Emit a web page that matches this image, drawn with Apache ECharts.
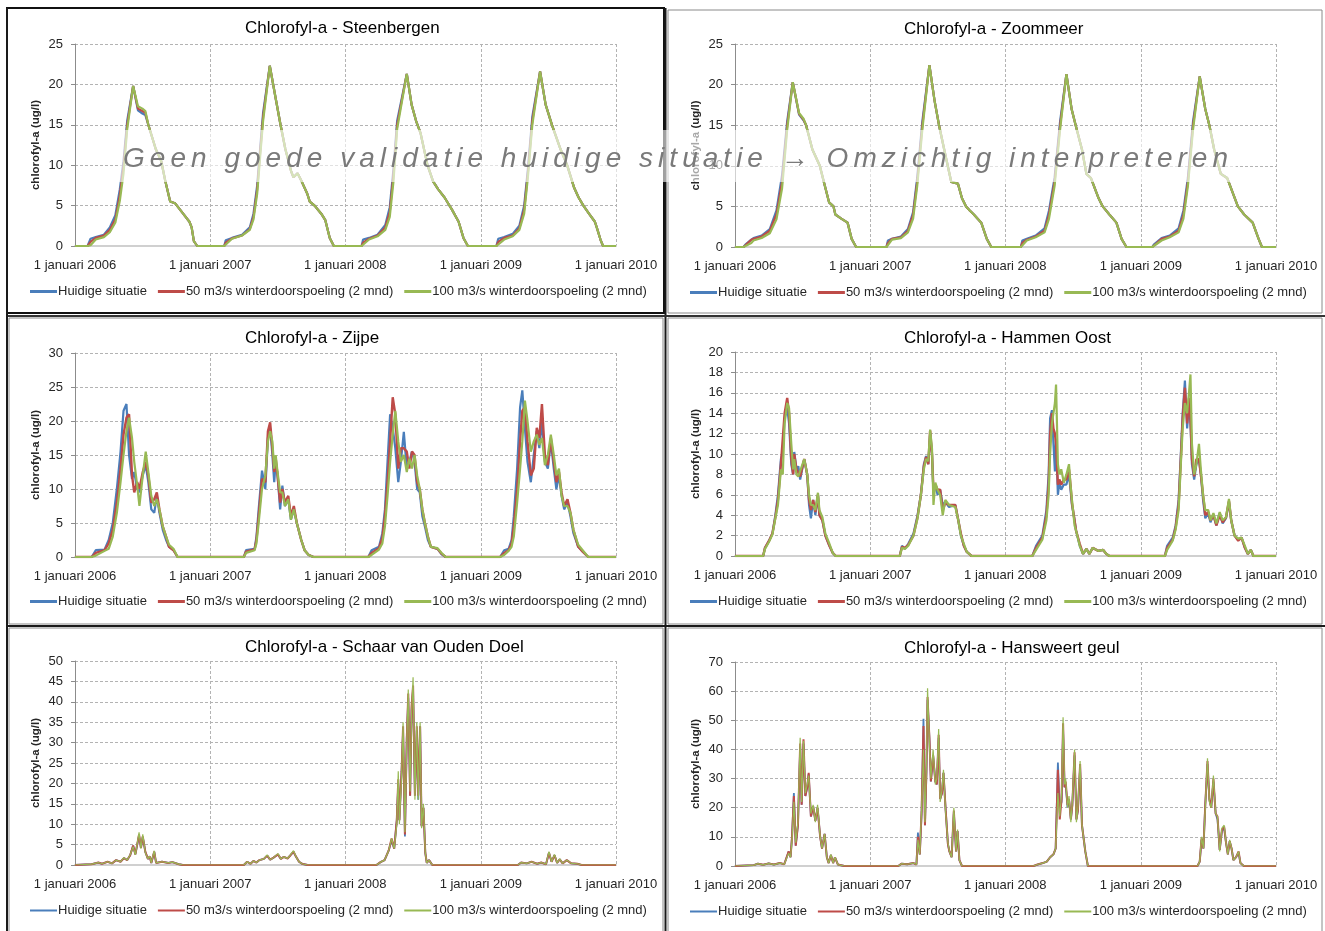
<!DOCTYPE html>
<html>
<head>
<meta charset="utf-8">
<script src="https://cdn.jsdelivr.net/npm/echarts@6/dist/echarts.min.js"></script>
<style>
html,body{margin:0;padding:0;background:#fff;}
#chart{position:absolute;left:0;top:0;width:1325px;height:931px;}
#wm{position:absolute;left:118px;top:130px;width:1118px;height:52px;background:rgba(255,255,255,0.6);z-index:10;}
#wmText{position:absolute;left:5px;top:12px;font-style:italic;font-size:28px;line-height:32px;font-family:'Liberation Sans',Arial,sans-serif;color:#7a7a7a;white-space:nowrap;}
</style>
</head>
<body>
<div id="chart"></div>
<div id="wm"><span id="wmText">Geen goede validatie huidige situatie → Omzichtig interpreteren</span></div>
<script>
// ---------- labels ----------
const seriesNames = ['Huidige situatie', '50 m3/s winterdoorspoeling (2 mnd)', '100 m3/s winterdoorspoeling (2 mnd)'];
const panelTitles = ['Chlorofyl-a - Steenbergen', 'Chlorofyl-a - Zoommeer', 'Chlorofyl-a - Zijpe', 'Chlorofyl-a - Hammen Oost', 'Chlorofyl-a - Schaar van Ouden Doel', 'Chlorofyl-a - Hansweert geul'];
const xTickLabels = ['1 januari 2006', '1 januari 2007', '1 januari 2008', '1 januari 2009', '1 januari 2010'];
const yAxisName = 'chlorofyl-a (ug/l)';
const yMaxes = [25, 25, 30, 20, 50, 70];
const yIntervals = [5, 5, 5, 2, 5, 10];

// ---------- Steenbergen ----------
const steenbergenDates = ['2006-01-01','2006-02-04','2006-02-12','2006-02-26','2006-03-20','2006-04-05','2006-04-20','2006-05-02','2006-05-12','2006-05-22','2006-06-07','2006-06-20','2006-07-02','2006-07-10','2006-07-18','2006-08-07','2006-08-22','2006-09-02','2006-09-15','2006-09-28','2006-10-20','2006-11-06','2006-11-12','2006-11-18','2006-11-27',
'2007-02-08','2007-02-12','2007-03-01','2007-03-28','2007-04-18','2007-04-28','2007-05-08','2007-05-15','2007-05-24','2007-06-11','2007-06-28','2007-07-10','2007-07-23','2007-08-08','2007-08-14','2007-08-25','2007-09-05','2007-09-20','2007-09-27','2007-10-10','2007-10-28','2007-11-08','2007-11-20','2007-12-01',
'2008-02-14','2008-02-18','2008-03-05','2008-03-28','2008-04-18','2008-04-30','2008-05-10','2008-05-20','2008-06-15','2008-06-28','2008-07-10','2008-07-22','2008-08-10','2008-08-25','2008-09-08','2008-09-25','2008-10-15','2008-11-02','2008-11-15','2008-11-27',
'2009-02-12','2009-02-17','2009-03-05','2009-03-28','2009-04-15','2009-04-28','2009-05-08','2009-05-20','2009-06-10','2009-06-25','2009-07-12','2009-08-04','2009-08-22','2009-09-10','2009-09-22','2009-10-05','2009-10-20','2009-11-05','2009-11-10','2009-11-20','2009-11-27','2010-01-01'];
const steenbergenHuidig = [0,0,0.9,1.1,1.4,2.3,3.8,7.0,10.5,15.5,19.8,16.8,16.4,16.2,15.0,12.0,10.5,8.0,5.5,5.3,4.0,3.0,2.3,0.6,0,
0,0.7,1.0,1.4,2.3,4.0,7.5,11.5,16.5,22.3,18,15,12,9.2,8.5,9.0,8.0,6.5,5.5,5.0,4.0,3.2,1.0,0,
0,0.8,1.0,1.4,2.6,4.8,9.5,15.5,21.3,17.5,15.5,14.0,10.0,8.0,7.0,6.0,4.5,3.0,1.0,0,
0,0.9,1.1,1.5,2.5,5.0,9.5,16,21.6,17.5,15,12,10,7.2,6.0,5.0,4.0,3.0,2.3,0.8,0,0];
const steenbergen50 = [0,0,0.5,1.0,1.3,2.0,3.3,6.3,9.8,15.0,19.8,17.0,16.7,16.5,15.0,12.0,10.5,8.0,5.5,5.3,4.0,3.0,2.3,0.6,0,
0,0.4,0.95,1.3,2.1,3.6,7.0,11,16,22.3,18,15,12,9.2,8.5,9.0,8.0,6.5,5.5,5.0,4.0,3.2,1.0,0,
0,0.4,0.9,1.3,2.3,4.2,8.8,15,21.3,17.5,15.5,14.0,10.0,8.0,7.0,6.0,4.5,3.0,1.0,0,
0,0.5,1.0,1.3,2.2,4.5,9.0,15.5,21.6,17.5,15,12,10,7.2,6.0,5.0,4.0,3.0,2.3,0.8,0,0];
const steenbergen100 = [0,0,0.1,0.8,1.1,1.7,2.9,5.6,9.0,14.5,19.8,17.3,17.0,16.7,15.0,12.0,10.5,8.0,5.5,5.3,4.0,3.0,2.3,0.6,0,
0,0.1,0.9,1.3,2.0,3.3,6.5,10.5,15.5,22.3,18,15,12,9.2,8.5,9.0,8.0,6.5,5.5,5.0,4.0,3.2,1.0,0,
0,0.1,0.8,1.2,2.0,3.6,8.0,14.5,21.3,17.5,15.5,14.0,10.0,8.0,7.0,6.0,4.5,3.0,1.0,0,
0,0.1,0.8,1.2,2.0,4.0,8.5,15,21.6,17.5,15,12,10,7.2,6.0,5.0,4.0,3.0,2.3,0.8,0,0];

// ---------- Zoommeer ----------
const zoommeerDates = ['2006-01-01','2006-01-24','2006-01-29','2006-02-14','2006-02-20','2006-03-14','2006-04-05','2006-04-23','2006-05-08','2006-05-22','2006-06-06','2006-06-23','2006-07-05','2006-07-12','2006-07-29','2006-08-18','2006-08-29','2006-09-12','2006-09-24','2006-09-29','2006-10-15','2006-11-01','2006-11-12','2006-11-24',
'2007-02-14','2007-02-18','2007-03-01','2007-03-25','2007-04-13','2007-04-27','2007-05-08','2007-05-22','2007-06-10','2007-06-24','2007-07-06','2007-07-20','2007-08-08','2007-08-26','2007-09-06','2007-09-17','2007-09-27','2007-10-08','2007-10-28','2007-11-12','2007-11-24',
'2008-02-12','2008-02-16','2008-02-28','2008-03-23','2008-04-16','2008-04-28','2008-05-13','2008-05-28','2008-06-14','2008-06-28','2008-07-09','2008-07-26','2008-08-07','2008-08-19','2008-09-09','2008-09-20','2008-10-08','2008-10-27','2008-11-10','2008-11-23',
'2009-02-01','2009-02-05','2009-02-26','2009-03-20','2009-04-13','2009-04-26','2009-05-08','2009-05-22','2009-06-09','2009-06-24','2009-07-05','2009-07-18','2009-08-05','2009-08-22','2009-09-20','2009-10-07','2009-10-30','2009-11-15','2009-11-24','2010-01-01'];
const zoommeerHuidig = [0,0,0.3,0.9,1.1,1.4,2.2,4.5,8.8,15.5,20.3,16.3,15.6,15,12,10,8,5.5,5,4,3.5,3,1,0,
0,0.8,1.0,1.3,2.2,4.3,8.5,15.5,22.4,18,15,12,8,7.8,6,5,4.5,4,3,1,0,
0,0.8,1.0,1.4,2.3,4.5,8.5,15.5,21.3,17,15,12,9,8.5,6,5,4,3,1,0,
0,0.3,1.1,1.4,2.3,4.5,8.5,15.5,21,17,15,12,9,8.5,5,4,3,1,0,0];
const zoommeer50 = [0,0,0.1,0.9,1.0,1.3,2.0,4.0,8.0,15,20.3,16.4,15.7,15,12,10,8,5.5,5,4,3.5,3,1,0,
0,0.5,1.0,1.2,2.0,4.0,8,15,22.4,18,15,12,8,7.8,6,5,4.5,4,3,1,0,
0,0.5,0.9,1.3,2.0,4.0,8,15,21.3,17,15,12,9,8.5,6,5,4,3,1,0,
0,0.1,1.0,1.3,2.0,4.0,8,15,21,17,15,12,9,8.5,5,4,3,1,0,0];
const zoommeer100 = [0,0,0,0.5,0.8,1.1,1.7,3.4,7.2,14.5,20.3,16.5,15.8,15,12,10,8,5.5,5,4,3.5,3,1,0,
0,0.1,0.9,1.1,1.8,3.5,7.5,14.5,22.4,18,15,12,8,7.8,6,5,4.5,4,3,1,0,
0,0.1,0.8,1.2,1.8,3.5,7.5,14.5,21.3,17,15,12,9,8.5,6,5,4,3,1,0,
0,0,0.8,1.2,1.8,3.5,7.5,14.5,21,17,15,12,9,8.5,5,4,3,1,0,0];

// ---------- Zijpe ----------
const zijpeDates = ['2006-01-01','2006-02-15','2006-02-26','2006-03-22','2006-04-02','2006-04-13','2006-04-24','2006-05-04','2006-05-12','2006-05-20','2006-05-27','2006-06-04','2006-06-10','2006-06-18','2006-06-24','2006-07-03','2006-07-11','2006-07-18','2006-07-26','2006-08-03','2006-08-10','2006-08-17','2006-08-26','2006-09-04','2006-09-12','2006-09-24','2006-10-05',
'2007-04-02','2007-04-08','2007-05-01','2007-05-06','2007-05-12','2007-05-21','2007-05-30','2007-06-06','2007-06-12','2007-06-18','2007-06-23','2007-06-27','2007-07-02','2007-07-09','2007-07-15','2007-07-22','2007-07-31','2007-08-07','2007-08-15','2007-08-23','2007-09-04','2007-09-13','2007-09-24','2007-10-07',
'2008-03-03','2008-03-12','2008-04-01','2008-04-10','2008-04-17','2008-04-24','2008-05-01','2008-05-08','2008-05-15','2008-05-23','2008-05-30','2008-06-07','2008-06-15','2008-06-22','2008-06-29','2008-07-06','2008-07-13','2008-07-20','2008-07-27','2008-08-03','2008-08-11','2008-08-19','2008-09-06','2008-09-17','2008-09-28',
'2009-02-22','2009-03-05','2009-03-17','2009-03-25','2009-03-31','2009-04-09','2009-04-17','2009-04-23','2009-04-30','2009-05-07','2009-05-16','2009-05-24','2009-06-01','2009-06-08','2009-06-15','2009-06-23','2009-07-01','2009-07-09','2009-07-17','2009-07-24','2009-07-31','2009-08-07','2009-08-14','2009-08-23','2009-08-31','2009-09-08','2009-09-21','2009-10-03','2009-10-18','2010-01-01'];
const zijpeHuidig = [0,0,1,1.1,2.5,5,10,15.5,21.5,22.5,15,11.5,12.5,10,9.5,12,13.5,11,7,6.5,9,6.5,4,2.5,1.5,1,0,
0,1,1.2,3,7,12.7,10,17.5,19,15,11,14,12,7,10.5,7.5,8.5,5.5,7,5,2.5,1,0.3,0,
0,1,1.5,3.5,7,14,21,19,16,11,14,18.4,13,14,15.5,14,10,9.5,6,4.5,2.5,1.5,1.2,0.4,0,
0,1,1.2,2.5,6,13,22,24.5,19,14,11,15,18.5,16,20,14,13,17,13,10,12,9,7,8,6,3.5,1.5,0.8,0,0];
const zijpe50 = [0,0,0.6,1.0,2,4,8,13,18,20.5,21,12,9.5,11,10,12.5,14,12,8,8.5,9.5,7,4.5,3,1.5,1,0,
0,0.8,1.1,2.5,6,11.5,11,18.5,19.8,16,12.5,14.5,12,8,10,8,9,6,7.5,5,2.5,1,0.3,0,
0,0.6,1.3,2.8,6,11,17,23.5,21,13,16,16,15.5,13,15.5,15,11,10,7,5,3,1.5,1.2,0.5,0,
0,0.6,1.0,2,4.5,10,17,21.5,22,17,12,13,19,17.5,22.5,15,13.5,17.5,14,11,12.5,9.5,7.5,8.5,6.5,4,1.5,0.8,0,0];
const zijpe100 = [0,0,0.2,0.9,1.2,3,6.5,11,15,18.5,20.5,17.5,14,10.5,7.5,12,15.5,12.5,9,7.5,8.5,7,4.5,3,1.8,1.2,0,
0,0.6,1.0,2,5,10,12,17,18.5,17,13,15,12.5,9.5,9.5,7.5,8.5,5.5,7,5,2.5,1,0.3,0,
0,0.3,1.1,2,4.5,9,14,18,21.5,17,14,15,12.5,14.5,13,15,12,10,7,5,3,1.5,1.3,0.6,0,
0,0.3,0.9,1.5,3,8,13,17,23,20,15.5,17,18,16.5,17.5,13.5,15,18,15,12,13,9,7.5,7.5,6.5,4,1.8,1,0,0];

// ---------- Hammen Oost ----------
const hammenDates = ['2006-01-01','2006-03-18','2006-03-23','2006-04-03','2006-04-12','2006-04-20','2006-04-27','2006-05-05','2006-05-10','2006-05-15','2006-05-22','2006-05-27','2006-06-02','2006-06-07','2006-06-10','2006-06-16','2006-06-21','2006-06-26','2006-07-07','2006-07-15','2006-07-20','2006-07-25','2006-07-31','2006-08-06','2006-08-13','2006-08-17','2006-08-25','2006-09-02','2006-09-13','2006-09-22','2006-09-30',
'2007-03-22','2007-03-28','2007-04-05','2007-04-14','2007-04-28','2007-05-09','2007-05-18','2007-05-26','2007-06-01','2007-06-07','2007-06-12','2007-06-17','2007-06-21','2007-06-26','2007-07-02','2007-07-09','2007-07-16','2007-07-23','2007-08-02','2007-08-19','2007-08-27','2007-09-03','2007-09-11','2007-09-19','2007-10-02',
'2008-03-14','2008-03-24','2008-04-10','2008-04-21','2008-04-27','2008-05-01','2008-05-06','2008-05-10','2008-05-14','2008-05-17','2008-05-22','2008-05-26','2008-05-31','2008-06-07','2008-06-14','2008-06-21','2008-06-25','2008-06-29','2008-07-06','2008-07-10','2008-07-20','2008-07-29','2008-08-07','2008-08-15','2008-08-24','2008-09-08','2008-09-21','2008-09-30','2008-10-08',
'2009-03-07','2009-03-13','2009-03-28','2009-04-05','2009-04-13','2009-04-19','2009-04-24','2009-04-30','2009-05-06','2009-05-11','2009-05-15','2009-05-19','2009-05-25','2009-05-31','2009-06-07','2009-06-12','2009-06-18','2009-06-24','2009-07-02','2009-07-08','2009-07-16','2009-07-24','2009-08-02','2009-08-10','2009-08-19','2009-08-27','2009-09-02','2009-09-11','2009-09-21','2009-09-30','2009-10-09','2009-10-17','2009-10-25','2009-11-01','2010-01-01'];
const hammenHuidig = [0,0,0.8,1.5,2.2,4,6,9.5,10.2,13.5,14.5,13,9,8,10.2,8.5,8.8,7.5,9.5,8,5,3.7,5.5,4,6,4,3.5,2,1,0.3,0,
0,1,0.7,1.2,2.2,4,6,9,9.8,9,12,10,6,7,6,6.5,5,5.3,4.8,5,3.5,2,1,0.4,0,
0,1,2,4.5,8,13.5,14.3,11,8.3,11.5,6,7.2,6.5,7,7,8,6.5,5,3.5,2.5,1,0.2,0.7,0.2,0.8,0.5,0.6,0.2,0,
0,1,1.8,3,5.5,10,14,17.2,12.5,15,13,9,7.5,9,9.5,8,5.5,3.7,4.2,3.3,4,3,4.2,3.2,3.7,5.3,3.5,2,1.6,1.8,0.8,0.2,0.6,0,0];
const hammen50 = [0,0,0.8,1.5,2.2,3.8,5.5,9,9,14,15.5,14,9.5,8,10,8.5,8.5,7.8,9.5,8,5.5,4.5,5.5,4.3,6,4,3.5,2,1,0.3,0,
0,0.9,0.8,1.1,2,3.8,6,8.8,9.7,9,12.3,10,6.5,7,6.5,6.5,4.5,5.2,5,5,3.5,2.2,1,0.4,0,
0,0.8,1.8,4,7,12,14,12.5,12,11,7,7.5,7,7.5,7.5,8.5,7,5.2,3.5,2.5,1.2,0.2,0.7,0.2,0.8,0.5,0.6,0.2,0,
0,0.8,1.6,2.8,5,9.5,13.5,16.5,13,15.5,13.5,9.5,7.8,9.5,9.5,8,6,4,4.3,3.5,4,3,4,3.3,3.8,5.4,3.5,2,1.5,1.8,0.8,0.2,0.6,0,0];
const hammen100 = [0,0,0.7,1.4,2.1,3.7,5,8.5,8,13,15,14.5,11,8.5,9.5,8,7.8,7.8,9.5,8,6,5,5,4.5,6.2,4.5,3.8,2.2,1.2,0.3,0,
0,0.8,0.7,1.0,2,3.7,6,8.5,9.5,9.3,12.4,10.5,5,7.2,6.5,6,4,5.5,5,4.8,3.5,2,1.2,0.4,0,
0,0.6,1.6,3.5,6,10,13,14,15,16.8,9,8,8.5,7.2,8,9,7,5.5,3,2.5,1,0.2,0.7,0.2,0.8,0.5,0.6,0.2,0,
0,0.6,1.5,2.6,4.5,9,12.5,15,14,16,17.8,11,8,9,11,8.5,6,4.5,4.5,3.5,4.2,3.2,4.3,3.5,3.8,5.6,3.5,2,1.7,1.8,1,0.2,0.6,0,0];

// ---------- Schaar van Ouden Doel ----------
const schaarDates = ['2006-01-01','2006-02-15','2006-03-05','2006-03-15','2006-03-30','2006-04-11','2006-04-22','2006-05-04','2006-05-13','2006-05-22','2006-05-30','2006-06-07','2006-06-13','2006-06-23','2006-06-28','2006-07-03','2006-07-10','2006-07-17','2006-07-22','2006-07-26','2006-08-03','2006-08-08','2006-08-24','2006-09-10','2006-09-21','2006-10-08','2006-10-19',
'2007-04-02','2007-04-11','2007-04-20','2007-04-28','2007-05-06','2007-05-14','2007-05-26','2007-06-04','2007-06-12','2007-06-21','2007-07-03','2007-07-11','2007-07-19','2007-07-29','2007-08-06','2007-08-14','2007-08-21','2007-08-29','2007-09-06','2007-09-21',
'2008-03-25','2008-04-05','2008-04-16','2008-04-27','2008-05-05','2008-05-12','2008-05-19','2008-05-23','2008-05-26','2008-06-01','2008-06-05','2008-06-10','2008-06-15','2008-06-19','2008-06-24','2008-06-28','2008-07-02','2008-07-07','2008-07-12','2008-07-16','2008-07-21','2008-07-25','2008-07-30','2008-08-04','2008-08-08','2008-08-14','2008-08-23',
'2009-04-11','2009-04-20','2009-05-05','2009-05-18','2009-06-02','2009-06-13','2009-06-26','2009-07-04','2009-07-11','2009-07-19','2009-07-26','2009-08-02','2009-08-10','2009-08-21','2009-09-02','2009-09-19','2009-09-30','2010-01-01'];
const schaarHuidig = [0,0.2,0.6,0.3,0.8,0.4,1.2,0.8,1.7,1.2,2.4,4.7,2.6,7.2,4.2,6.8,3.2,1.5,2.1,0.5,3.2,0.5,0.8,0.5,0.7,0.2,0,
0,0.8,0.3,1.0,0.6,1.2,1.5,2.3,1.3,1.8,2.6,1.5,2,1.6,2.4,3.2,2,0.8,0.3,0,
0,0.7,1.2,3.5,6,4,11,20,11,23,33,7,31,41,17,38,43,17,33,16,34,9.5,14,3,0.5,1.2,0,
0,0.6,0.4,0.8,0.3,0.6,0.2,3.0,0.8,2.4,0.5,1.4,0.4,1.2,0.4,0.3,0,0];
const schaar50 = [0,0.2,0.6,0.3,0.8,0.4,1.2,0.8,1.7,1.2,2.4,4.8,2.6,7.5,4.2,7,3.2,1.5,2.1,0.5,3.3,0.5,0.8,0.5,0.7,0.2,0,
0,0.8,0.3,1.0,0.6,1.2,1.5,2.3,1.3,1.8,2.6,1.5,2,1.6,2.4,3.3,2,0.8,0.3,0,
0,0.7,1.2,3.5,6.5,4,11,21,11,23,34,7.5,31,42,17,39,44,17,34,17,34,9.5,14,3,0.5,1.2,0,
0,0.6,0.4,0.8,0.3,0.6,0.2,3.0,0.8,2.4,0.5,1.4,0.4,1.2,0.4,0.3,0,0];
const schaar100 = [0,0.2,0.6,0.3,0.8,0.4,1.2,0.8,1.8,1.2,2.5,4.5,2.5,8,4,7.5,3,1.5,2.2,0.5,3.5,0.5,0.8,0.5,0.7,0.2,0,
0,0.8,0.3,1.0,0.6,1.2,1.5,2.5,1.3,1.8,2.8,1.5,2,1.6,2.5,3.5,2,0.8,0.3,0,
0,0.7,1.2,3.5,6.5,4,10,23,10,22,35,8,30,43,18,37,46,16,35,16,35,9,15,3,0.5,1.2,0,
0,0.6,0.4,0.8,0.3,0.6,0.2,3.3,0.8,2.6,0.5,1.5,0.4,1.2,0.4,0.3,0,0];

// ---------- Hansweert geul ----------
const hansweertDates = ['2006-01-01','2006-02-21','2006-03-04','2006-03-18','2006-04-02','2006-04-16','2006-05-02','2006-05-14','2006-05-26','2006-05-31','2006-06-04','2006-06-09','2006-06-14','2006-06-20','2006-06-26','2006-06-30','2006-07-05','2006-07-10','2006-07-15','2006-07-19','2006-07-25','2006-07-31','2006-08-06','2006-08-12','2006-08-19','2006-08-24','2006-08-31','2006-09-06','2006-09-11','2006-09-17','2006-09-23','2006-09-28','2006-10-06','2006-10-23',
'2007-03-18','2007-03-27','2007-04-11','2007-04-28','2007-05-06','2007-05-10','2007-05-15','2007-05-20','2007-05-25','2007-05-29','2007-06-02','2007-06-05','2007-06-10','2007-06-14','2007-06-20','2007-06-26','2007-06-30','2007-07-05','2007-07-09','2007-07-14','2007-07-18','2007-07-24','2007-07-30','2007-08-03','2007-08-09','2007-08-15','2007-08-21','2007-08-25','2007-08-30','2007-09-06',
'2008-03-17','2008-03-28','2008-04-11','2008-04-22','2008-05-01','2008-05-10','2008-05-16','2008-05-22','2008-05-27','2008-06-01','2008-06-05','2008-06-09','2008-06-12','2008-06-17','2008-06-21','2008-06-26','2008-06-30','2008-07-06','2008-07-11','2008-07-15','2008-07-21','2008-07-26','2008-07-31','2008-08-04','2008-08-11',
'2009-06-03','2009-06-09','2009-06-14','2009-06-19','2009-06-24','2009-06-30','2009-07-05','2009-07-10','2009-07-16','2009-07-22','2009-07-27','2009-08-02','2009-08-08','2009-08-14','2009-08-19','2009-08-24','2009-08-29','2009-09-03','2009-09-08','2009-09-15','2009-09-22','2009-09-27','2009-10-06','2010-01-01'];
const hansweertHuidig = [0,0.3,0.8,0.4,0.9,0.5,1,0.6,5,3,10,25,7,14,41,21,42,24,27,31.5,17,20.5,15.5,20,10,6,11,3,1,3.8,1,3,0.5,0,
0,0.8,0.6,1,0.5,11.5,4,18,50.5,14,32,57,44,29,38,29,28,44,23,25,32,19,7.5,5,3,18.5,5,12,2,0,
0,0.5,1,1.5,3,4,6,35.5,20,22,47,27,28,20,23,16,21,38,16,19,34,14,14,5,0,
0,1.5,9,6,21,35,23,20,29,18,16,5.5,12,13,8,4,8.5,6,2,3,4.5,1,0,0];
const hansweert50 = [0,0.3,0.8,0.4,0.9,0.5,1,0.6,5,3,10,24,7,14,42,21,43.5,24,27,32,17,20.5,15.5,20,10,6,11,3,1,3.8,1,3,0.5,0,
0,0.8,0.6,1,0.5,10,4,19,48,14,33,58,44,29,38,29,28,45,23,25,32,19,7.5,5,3,19,5,12,2,0,
0,0.5,1,1.5,3,4,6,33,16,23,49,27,29,21,23,16,21,39,16,19,35,14,14,5,0,
0,1.5,9.5,6,21,36,23,20,30,18,17,5.5,12.5,13.5,8,4,8.5,6,2,3,5,1,0,0];
const hansweert100 = [0,0.3,0.8,0.4,0.9,0.5,1,0.6,4.5,3,9,22,8,15,44,22,43,25,28,31,18,21,15,21,10,6,11,3,1,4,1,3,0.5,0,
0,0.8,0.6,1,0.5,9,4,20,40,15,35,61,42,30,40,28,30,47,22,26,33,18,8,5,3,20,5,12.5,2,0,
0,0.5,1,1.5,3,4,6,25,17,25,51,28,30,20,24,15,22,40,15,20,36,14,14.5,5,0,
0,1.5,10,6,20,37,22,20,31,18,17,5,13,14,8,4,9,6,2,3,5,1,0,0];

// ---------- build ----------
const panels = [
  {dates: steenbergenDates, vals: [steenbergenHuidig, steenbergen50, steenbergen100]},
  {dates: zoommeerDates, vals: [zoommeerHuidig, zoommeer50, zoommeer100]},
  {dates: zijpeDates, vals: [zijpeHuidig, zijpe50, zijpe100]},
  {dates: hammenDates, vals: [hammenHuidig, hammen50, hammen100]},
  {dates: schaarDates, vals: [schaarHuidig, schaar50, schaar100]},
  {dates: hansweertDates, vals: [hansweertHuidig, hansweert50, hansweert100]}
];
const colors = ['#4a7ebb', '#be4b48', '#98b954'];
const FONT = "'Liberation Sans', Arial, sans-serif";

// layout
const grids = [
  {left: 75, top: 44, width: 541, height: 202},
  {left: 735, top: 44, width: 541, height: 203},
  {left: 75, top: 353, width: 541, height: 204},
  {left: 735, top: 352, width: 541, height: 204},
  {left: 75, top: 661, width: 541, height: 204},
  {left: 735, top: 662, width: 541, height: 204}
];
const titlePos = [[245, 20], [904, 21], [245, 330], [904, 330], [245, 639], [904, 640]];
const legendPos = [[30, 285], [690, 286], [30, 595], [690, 595], [30, 904], [690, 905]];
// line widths per panel: [Huidige, 50, 100]
const lineWidths = [[2.2, 2.2, 2.2], [2.2, 2.2, 2.2], [2.2, 2.4, 2.2], [2.2, 2.4, 2.2], [1.8, 2.0, 1.2], [1.8, 2.0, 1.2]];

const option = {
  animation: false,
  backgroundColor: '#fff',
  textStyle: {fontFamily: FONT},
  title: panelTitles.map((t, i) => ({
    text: t, left: titlePos[i][0], top: titlePos[i][1], padding: 0,
    textStyle: {fontSize: 17, fontWeight: 'normal', color: '#000', fontFamily: FONT}
  })),
  legend: legendPos.map((p, i) => ({
    data: seriesNames, left: p[0], top: p[1], padding: 0,
    icon: 'rect', itemWidth: 27, itemHeight: i >= 4 ? 2 : 3, itemGap: 11,
    textStyle: {fontSize: 13, color: '#262626', fontFamily: FONT, padding: [0, 0, 0, -4]},
    selectedMode: false
  })),
  grid: grids.map(g => Object.assign({containLabel: false}, g)),
  xAxis: grids.map((g, i) => ({
    type: 'time', gridIndex: i, min: '2006-01-01', max: '2010-01-01',
    splitNumber: 4, minInterval: 365 * 86400000,
    axisLine: {show: true, lineStyle: {color: '#d0d0d0', width: 2}},
    axisTick: {show: false},
    axisLabel: {
      color: '#262626', fontSize: 13, margin: 13, fontFamily: FONT,
      showMinLabel: true, showMaxLabel: true, hideOverlap: false,
      formatter: v => xTickLabels[new Date(v).getFullYear() - 2006] || ''
    },
    splitLine: {show: true, lineStyle: {type: [3, 2], color: '#b3b3b3', width: 1}}
  })),
  yAxis: grids.map((g, i) => ({
    type: 'value', gridIndex: i, min: 0, max: yMaxes[i], interval: yIntervals[i],
    name: yAxisName, nameLocation: 'middle', nameGap: 33, nameRotate: 90,
    nameTextStyle: {fontSize: 11.5, fontWeight: 'bold', color: '#262626', fontFamily: FONT},
    axisLine: {show: true, lineStyle: {color: '#8c8c8c'}},
    axisTick: {show: true, length: 4, lineStyle: {color: '#8c8c8c'}},
    axisLabel: {color: '#262626', fontSize: 13, margin: 12, fontFamily: FONT},
    splitLine: {show: true, lineStyle: {type: [3, 2], color: '#b3b3b3', width: 1}}
  })),
  series: [],
  graphic: [
    // panel frames
    {type: 'rect', shape: {x: 7, y: 8, width: 657, height: 305}, style: {fill: 'none', stroke: '#111', lineWidth: 2}, z: 100},
    {type: 'rect', shape: {x: 668, y: 10, width: 654, height: 303}, style: {fill: 'none', stroke: '#8a8a8a', lineWidth: 1}, z: 100},
    {type: 'rect', shape: {x: 9, y: 318, width: 654, height: 306}, style: {fill: 'none', stroke: '#8a8a8a', lineWidth: 1}, z: 100},
    {type: 'rect', shape: {x: 668, y: 318, width: 654, height: 306}, style: {fill: 'none', stroke: '#8a8a8a', lineWidth: 1}, z: 100},
    {type: 'rect', shape: {x: 9, y: 628, width: 654, height: 310}, style: {fill: 'none', stroke: '#8a8a8a', lineWidth: 1}, z: 100},
    {type: 'rect', shape: {x: 668, y: 628, width: 654, height: 310}, style: {fill: 'none', stroke: '#8a8a8a', lineWidth: 1}, z: 100},
    // dark separators
    {type: 'line', shape: {x1: 665.5, y1: 8, x2: 665.5, y2: 931}, style: {stroke: '#1a1a1a', lineWidth: 2}, z: 101},
    {type: 'line', shape: {x1: 7, y1: 316, x2: 1325, y2: 316}, style: {stroke: '#333', lineWidth: 2}, z: 101},
    {type: 'line', shape: {x1: 7, y1: 626, x2: 1325, y2: 626}, style: {stroke: '#1a1a1a', lineWidth: 2}, z: 101},
    {type: 'line', shape: {x1: 7, y1: 8, x2: 7, y2: 931}, style: {stroke: '#1a1a1a', lineWidth: 2}, z: 101}
  ]
};

panels.forEach((p, i) => {
  p.vals.forEach((vals, k) => {
    option.series.push({
      name: seriesNames[k], type: 'line', xAxisIndex: i, yAxisIndex: i,
      showSymbol: false, symbol: 'none',
      lineStyle: {width: lineWidths[i][k], color: colors[k]},
      itemStyle: {color: colors[k]},
      data: p.dates.map((d, j) => [d, vals[j]]),
      z: 2 + k
    });
  });
});

const chart = echarts.init(document.getElementById('chart'), null, {renderer: 'canvas'});
chart.setOption(option);

// stretch watermark text to its span in the reference
(function () {
  const el = document.getElementById('wmText');
  const txt = el.textContent;
  const natural = el.getBoundingClientRect().width;
  const target = 1105;
  const n = Array.from(txt).length;
  const ls = (target - natural) / (n - 1);
  el.style.letterSpacing = ls.toFixed(2) + 'px';
})();
</script>
</body>
</html>
